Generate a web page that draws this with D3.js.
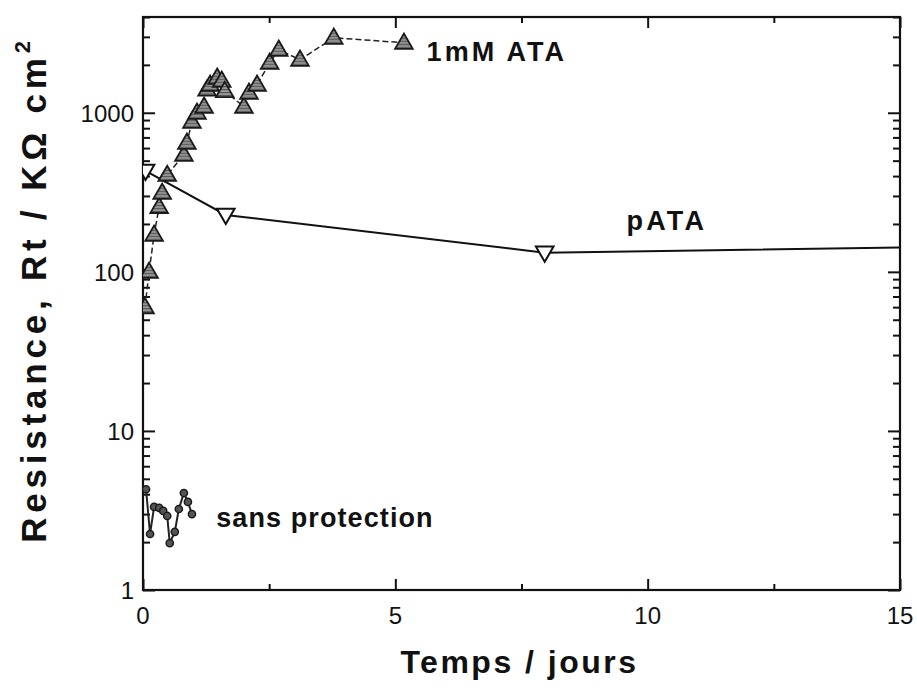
<!DOCTYPE html>
<html>
<head>
<meta charset="utf-8">
<script src="https://cdn.jsdelivr.net/npm/d3@7"></script>
<style>
    html, body { margin: 0; padding: 0; background: #fff; }
    svg { display: block; font-family: Arial, "Liberation Sans", Helvetica, sans-serif; }
</style>
</head>
<body>
<div id="chart"></div>
<script>
/* --------------------------------------------------------------
DATOS
-------------------------------------------------------------- */

// 1mM ATA : triángulos grises
const ataDays = [0.04, 0.12, 0.22, 0.32, 0.38, 0.48, 0.81, 0.87, 0.97, 1.07, 1.21, 1.27, 1.33, 1.47, 1.56, 1.62, 2.0, 2.1, 2.26, 2.51, 2.69, 3.11, 3.78, 5.17];
const ataRt   = [60, 100, 171, 256, 314, 407, 545, 648, 878, 1000, 1091, 1400, 1500, 1660, 1590, 1370, 1091, 1336, 1500, 2063, 2490, 2154, 2963, 2755];

// pATA : triángulos invertidos abiertos (el último punto queda fuera del eje)
const pataDays = [0.05, 1.64, 7.96, 16];
const pataRt   = [432, 228, 132, 144];

// sans protection : círculos
const bareDays = [0.06, 0.14, 0.22, 0.32, 0.40, 0.48, 0.53, 0.63, 0.71, 0.81, 0.89, 0.97];
const bareRt   = [4.3, 2.25, 3.33, 3.28, 3.14, 2.92, 1.97, 2.32, 3.23, 4.07, 3.58, 3.0];

const xTicks = [0, 5, 10, 15];
const yTicks = [1, 10, 100, 1000];

/* --------------------------------------------------------------
ESCALAS
-------------------------------------------------------------- */

const W = 917, H = 691;
const L = 143, R = 900, T = 17, B = 590;

const x = d3.scaleLinear().domain([0, 15]).range([L, R]);
const y = d3.scaleLog().domain([1, 4000]).range([B, T]);

const svg = d3.select("#chart").append("svg")
    .attr("width", W)
    .attr("height", H);

const defs = svg.append("defs");

defs.append("clipPath").attr("id", "plotClip")
    .append("rect")
    .attr("x", L).attr("y", T)
    .attr("width", R - L).attr("height", B - T);

// relleno rayado de los triángulos ATA
const hatch = defs.append("pattern")
    .attr("id", "hatch")
    .attr("patternUnits", "userSpaceOnUse")
    .attr("width", 4)
    .attr("height", 3);
hatch.append("rect").attr("width", 4).attr("height", 3).attr("fill", "#9a9a9a");
hatch.append("rect").attr("width", 4).attr("height", 1.2).attr("fill", "#555");

/* --------------------------------------------------------------
EJES (ticks hacia dentro, en los cuatro lados)
-------------------------------------------------------------- */

const xMinor = d3.range(0, 15.01, 2.5).filter(v => v % 5 !== 0);
const yMinor = [];
for (let p = 0; p < 4; p++) {
    for (let m = 2; m <= 9; m++) {
        const v = m * Math.pow(10, p);
        if (v <= 4000) yMinor.push(v);
    }
}

function drawAxis(axis, offset) {
    const g = svg.append("g")
        .attr("transform", offset)
        .call(axis);
    g.select(".domain").remove();
    g.selectAll("line").attr("stroke", "#111").attr("stroke-width", 2);
    return g;
}

// abajo
drawAxis(d3.axisTop(x).tickValues(xTicks).tickSize(11).tickFormat(""), `translate(0,${B})`);
drawAxis(d3.axisTop(x).tickValues(xMinor).tickSize(6).tickFormat(""), `translate(0,${B})`);
// arriba
drawAxis(d3.axisBottom(x).tickValues(xTicks).tickSize(11).tickFormat(""), `translate(0,${T})`);
drawAxis(d3.axisBottom(x).tickValues(xMinor).tickSize(6).tickFormat(""), `translate(0,${T})`);
// izquierda
drawAxis(d3.axisRight(y).tickValues(yTicks).tickSize(12).tickFormat(""), `translate(${L},0)`);
drawAxis(d3.axisRight(y).tickValues(yMinor).tickSize(7).tickFormat(""), `translate(${L},0)`);
// derecha
drawAxis(d3.axisLeft(y).tickValues(yTicks).tickSize(12).tickFormat(""), `translate(${R},0)`);
drawAxis(d3.axisLeft(y).tickValues(yMinor).tickSize(7).tickFormat(""), `translate(${R},0)`);

// marco
svg.append("rect")
    .attr("x", L).attr("y", T)
    .attr("width", R - L).attr("height", B - T)
    .attr("fill", "none")
    .attr("stroke", "#111")
    .attr("stroke-width", 2.2);

// etiquetas de los ticks
svg.append("g").selectAll("text")
    .data(xTicks)
    .enter()
    .append("text")
    .attr("x", d => x(d))
    .attr("y", B + 34)
    .attr("text-anchor", "middle")
    .attr("font-size", 24)
    .attr("fill", "#111")
    .text(d => d);

svg.append("g").selectAll("text")
    .data(yTicks)
    .enter()
    .append("text")
    .attr("x", L - 9)
    .attr("y", d => y(d) + 9)
    .attr("text-anchor", "end")
    .attr("font-size", 24)
    .attr("fill", "#111")
    .text(d => d);

/* --------------------------------------------------------------
TÍTULOS DE EJES
-------------------------------------------------------------- */

svg.append("text")
    .attr("x", (L + R) / 2 - 2)
    .attr("y", 673)
    .attr("text-anchor", "middle")
    .attr("font-size", 32)
    .attr("font-weight", "bold")
    .attr("letter-spacing", 2.5)
    .attr("fill", "#111")
    .text("Temps / jours");

const yTitle = svg.append("text")
    .attr("transform", `translate(46,${(T + B) / 2 - 14}) rotate(-90)`)
    .attr("text-anchor", "middle")
    .attr("font-size", 35)
    .attr("font-weight", "bold")
    .attr("letter-spacing", 4.8)
    .attr("fill", "#111");
yTitle.append("tspan").text("Resistance, Rt / K\u03A9 cm");
yTitle.append("tspan")
    .attr("dy", -16)
    .attr("font-size", 22)
    .text("2");

/* --------------------------------------------------------------
SERIES
-------------------------------------------------------------- */

const plot = svg.append("g").attr("clip-path", "url(#plotClip)");

function series(xs, ys) {
    return xs.map((d, i) => ({ x: d, y: ys[i] }));
}

const line = d3.line().x(d => x(d.x)).y(d => y(d.y));

const ata = series(ataDays, ataRt);
const pata = series(pataDays, pataRt);
const bare = series(bareDays, bareRt);

plot.append("path")
    .datum(pata)
    .attr("d", line)
    .attr("fill", "none")
    .attr("stroke", "#111")
    .attr("stroke-width", 2);

plot.append("path")
    .datum(ata)
    .attr("d", line)
    .attr("fill", "none")
    .attr("stroke", "#222")
    .attr("stroke-width", 1.5)
    .attr("stroke-dasharray", "6,3");

plot.append("path")
    .datum(bare)
    .attr("d", line)
    .attr("fill", "none")
    .attr("stroke", "#222")
    .attr("stroke-width", 2);

const tri = d3.symbol().type(d3.symbolTriangle).size(135);

plot.selectAll(".ata")
    .data(ata)
    .enter()
    .append("path")
    .attr("class", "ata")
    .attr("d", tri)
    .attr("transform", d => `translate(${x(d.x)},${y(d.y) + 1})`)
    .attr("fill", "url(#hatch)")
    .attr("stroke", "#1a1a1a")
    .attr("stroke-width", 1.8);

plot.selectAll(".pata")
    .data(pata)
    .enter()
    .append("path")
    .attr("class", "pata")
    .attr("d", tri)
    .attr("transform", d => `translate(${x(d.x)},${y(d.y) - 1}) rotate(180)`)
    .attr("fill", "#fff")
    .attr("stroke", "#111")
    .attr("stroke-width", 2);

plot.selectAll(".bare")
    .data(bare)
    .enter()
    .append("circle")
    .attr("class", "bare")
    .attr("cx", d => x(d.x))
    .attr("cy", d => y(d.y))
    .attr("r", 3.6)
    .attr("fill", "#555")
    .attr("stroke", "#1a1a1a")
    .attr("stroke-width", 1.5);

/* --------------------------------------------------------------
ETIQUETAS DE SERIES
-------------------------------------------------------------- */

const labels = [
    { text: "1mM ATA", x: 5.62, y: 2420, sp: 3 },
    { text: "pATA", x: 9.58, y: 210, sp: 3.2 },
    { text: "sans protection", x: 1.45, y: 2.85, sp: 1.1 }
];

svg.selectAll(".lbl")
    .data(labels)
    .enter()
    .append("text")
    .attr("class", "lbl")
    .attr("x", d => x(d.x))
    .attr("y", d => y(d.y))
    .attr("dy", "0.35em")
    .attr("font-size", 27)
    .attr("font-weight", "bold")
    .attr("letter-spacing", d => d.sp)
    .attr("fill", "#111")
    .text(d => d.text);
</script>
</body>
</html>
